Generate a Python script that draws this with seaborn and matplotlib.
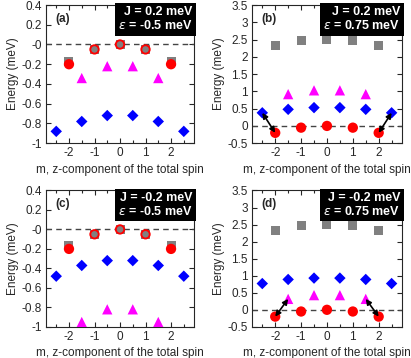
import numpy as np
import pandas as pd
import matplotlib
matplotlib.use("Agg")
import matplotlib.pyplot as plt
from matplotlib.ticker import MultipleLocator
import seaborn as sns

sns.set_style("ticks")
plt.rcParams['font.family'] = ['Liberation Sans', 'DejaVu Sans']
plt.rcParams['mathtext.fontset'] = 'dejavusans'

# m values
m_int = [-2, -1, 0, 1, 2]
m_half4 = [-1.5, -0.5, 0.5, 1.5]
m_half6 = [-2.5, -1.5, -0.5, 0.5, 1.5, 2.5]

# panel data (energies in meV)
panel_labels = ["(a)", "(b)", "(c)", "(d)"]
J_vals = ["0.2", "0.2", "-0.2", "-0.2"]
eps_vals = ["-0.5", "0.75", "-0.5", "0.75"]

gray_a = [-0.17, -0.05, 0.0, -0.05, -0.17]
red_a = [-0.2, -0.05, 0.0, -0.05, -0.2]
tri_a = [-0.34, -0.22, -0.22, -0.34]
dia_a = [-0.88, -0.78, -0.72, -0.72, -0.78, -0.88]

gray_b = [2.33, 2.46, 2.5, 2.46, 2.33]
red_b = [-0.2, -0.05, 0.0, -0.05, -0.2]
tri_b = [0.92, 1.03, 1.03, 0.92]
dia_b = [0.38, 0.48, 0.53, 0.53, 0.48, 0.38]

gray_c = [-0.17, -0.05, 0.0, -0.05, -0.17]
red_c = [-0.2, -0.05, 0.0, -0.05, -0.2]
tri_c = [-0.95, -0.82, -0.82, -0.95]
dia_c = [-0.48, -0.37, -0.32, -0.32, -0.37, -0.48]

gray_d = [2.33, 2.46, 2.5, 2.46, 2.33]
red_d = [-0.2, -0.05, 0.0, -0.05, -0.2]
tri_d = [0.32, 0.43, 0.43, 0.32]
dia_d = [0.77, 0.89, 0.93, 0.93, 0.89, 0.77]

panels = [
    (gray_a, red_a, tri_a, dia_a),
    (gray_b, red_b, tri_b, dia_b),
    (gray_c, red_c, tri_c, dia_c),
    (gray_d, red_d, tri_d, dia_d),
]
ylims = [(-1, 0.4), (-0.5, 3.5), (-1, 0.4), (-0.5, 3.5)]
yticks = [np.arange(-1, 0.41, 0.2), np.arange(-0.5, 3.51, 0.5),
          np.arange(-1, 0.41, 0.2), np.arange(-0.5, 3.51, 0.5)]
# double arrows between states
arrows = [
    [],
    [(m_half6[0], dia_b[0], m_int[0], red_b[0]), (m_half6[5], dia_b[5], m_int[4], red_b[4])],
    [],
    [(m_half4[0], tri_d[0], m_int[0], red_d[0]), (m_half4[3], tri_d[3], m_int[4], red_d[4])],
]

fig = plt.figure(figsize=(4.11, 3.58), dpi=100)
positions = [
    [0.112, 0.600, 0.360, 0.386],
    [0.613, 0.600, 0.365, 0.386],
    [0.112, 0.087, 0.360, 0.381],
    [0.613, 0.087, 0.365, 0.381],
]

fs = 8.5
for i, (gray, red, tri, dia) in enumerate(panels):
    ax = fig.add_axes(positions[i])
    ax.axhline(0, color="#444444", ls=(0, (4, 3)), lw=1, zorder=1)
    df_g = pd.DataFrame({"m": m_int, "E": gray})
    df_r = pd.DataFrame({"m": m_int, "E": red})
    df_t = pd.DataFrame({"m": m_half4, "E": tri})
    df_d = pd.DataFrame({"m": m_half6, "E": dia})
    sns.scatterplot(data=df_g, x="m", y="E", marker="s", s=42, color="#808080",
                    edgecolor="none", ax=ax, zorder=3)
    sns.scatterplot(data=df_r, x="m", y="E", marker="o", s=55, color="#ff0000",
                    edgecolor="none", ax=ax, zorder=4)
    if i in (0, 2):
        df_in = df_g.iloc[1:4]
        sns.scatterplot(data=df_in, x="m", y="E", marker="o", s=22, color="#808080",
                        edgecolor="none", ax=ax, zorder=5)
    sns.scatterplot(data=df_t, x="m", y="E", marker="^", s=55, color="#ff00ff",
                    edgecolor="none", ax=ax, zorder=3)
    sns.scatterplot(data=df_d, x="m", y="E", marker="D", s=34, color="#0000ff",
                    edgecolor="none", ax=ax, zorder=3)
    for (x0, y0, x1, y1) in arrows[i]:
        ax.annotate("", xy=(x1, y1), xytext=(x0, y0),
                    arrowprops=dict(arrowstyle="<|-|>", color="black", lw=1.2,
                                    mutation_scale=8, shrinkA=0, shrinkB=0),
                    zorder=6)

    ax.set_xlim(-2.9, 2.9)
    ax.set_ylim(*ylims[i])
    ax.set_xticks(m_int)
    ax.set_xticklabels([str(v) for v in m_int])
    ax.xaxis.set_minor_locator(MultipleLocator(0.5))
    ax.set_yticks(yticks[i])
    ax.set_yticklabels(["%g" % round(v, 2) for v in yticks[i]])
    ax.tick_params(which="both", direction="in", top=True, right=True,
                   labelsize=fs, width=0.8)
    ax.tick_params(which="major", length=3.5, pad=3)
    ax.tick_params(which="minor", length=2)
    for sp in ax.spines.values():
        sp.set_linewidth(0.8)
    ax.set_xlabel("m, z-component of the total spin", fontsize=fs, labelpad=3)
    ax.set_ylabel("Energy (meV)", fontsize=fs, labelpad=2)
    ax.text(0.06, 0.9, panel_labels[i], transform=ax.transAxes, fontsize=fs,
            fontweight="bold", va="center", ha="left")
    ax.text(0.99, 0.99, "J = %s meV\n$\\varepsilon$ = %s meV" % (J_vals[i], eps_vals[i]),
            transform=ax.transAxes, fontsize=9, fontweight="bold", color="white",
            ha="right", va="top", linespacing=1.1, zorder=10,
            bbox=dict(boxstyle="square,pad=0.25", fc="black", ec="none"))

fig.savefig("out.png", dpi=100)
